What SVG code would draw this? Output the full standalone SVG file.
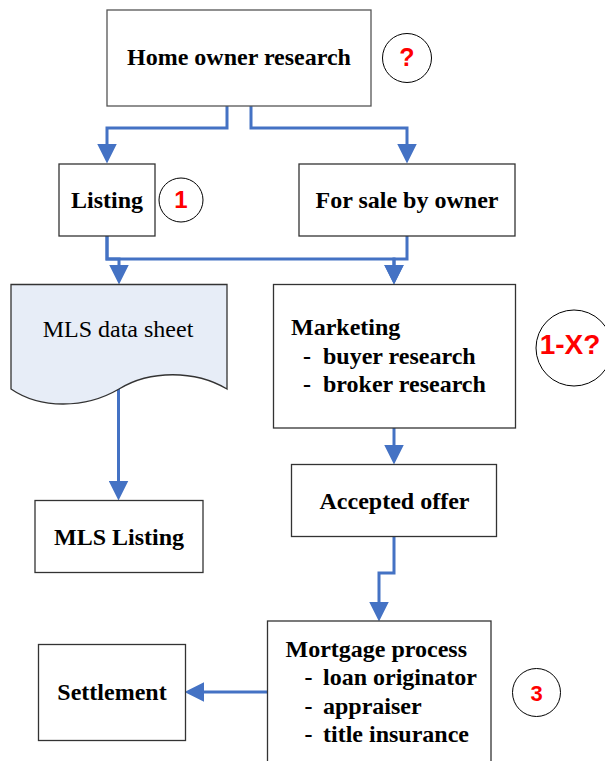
<svg xmlns="http://www.w3.org/2000/svg" width="605" height="761" viewBox="0 0 605 761">
<style>
.box{fill:#fff;stroke:#333;stroke-width:1.3}
.sheet{fill:#E7EDF7;stroke:#333;stroke-width:1.3}
.lbl{font-family:"Liberation Serif","Times New Roman",serif;font-size:24px;font-weight:bold;fill:#000}
.reg{font-family:"Liberation Serif","Times New Roman",serif;font-size:24px;fill:#000}
.mark{fill:#fff;stroke:#000;stroke-width:1}
.num{font-family:"Liberation Sans",Arial,sans-serif;font-weight:bold;fill:#FF0000;text-anchor:middle}
.c{text-anchor:middle}
.conn{fill:none;stroke:#4472C4;stroke-width:3;marker-end:url(#arr)}
</style>
<defs>
<marker id="arr" markerUnits="userSpaceOnUse" markerWidth="20" markerHeight="20" viewBox="0 0 19 19" refX="9" refY="9.5" orient="auto">
<path d="M0,0 L19,9.5 L0,19 z" fill="#4472C4"/>
</marker>
</defs>
<g id="connectors">
<path class="conn" d="M227,106 V128 H107 V153"/>
<path class="conn" d="M251,106 V128 H407 V153"/>
<path class="conn" d="M107,236 V259 H119 V274"/>
<path class="conn" d="M107,236 V259 H394 V274"/>
<path class="conn" d="M407,236 V259 H394 V274"/>
<path class="conn" d="M118.5,388 V490"/>
<path class="conn" d="M394,428 V454"/>
<path class="conn" d="M394,536 V573 H379 V611"/>
<path class="conn" d="M267,692 H195"/>
</g>
<g id="home">
<rect class="box" x="107" y="10" width="264" height="96" style="stroke:#555"/>
<text class="lbl c" x="239" y="65">Home owner research</text>
</g>
<g id="mark-q">
<circle class="mark" cx="407" cy="58" r="24.5"/>
<text class="num" x="407" y="66" font-size="25">?</text>
</g>
<g id="listing">
<rect class="box" x="59" y="164" width="96" height="72"/>
<text class="lbl c" x="107" y="208">Listing</text>
</g>
<g id="mark-1">
<circle class="mark" cx="181" cy="200" r="22"/>
<text class="num" x="181" y="207.5" font-size="24">1</text>
</g>
<g id="fsbo">
<rect class="box" x="299" y="164" width="216" height="72"/>
<text class="lbl c" x="407" y="208">For sale by owner</text>
</g>
<g id="datasheet">
<path class="sheet" d="M11,284.5 H227 V389 C195,370 150,370 119,389 C85,409 40,409 11,389 Z"/>
<text class="reg c" x="118" y="337">MLS data sheet</text>
</g>
<g id="marketing">
<rect class="box" x="273.5" y="284.5" width="242" height="143.5"/>
<text class="lbl" x="291" y="335">Marketing</text>
<text class="lbl" y="363.5"><tspan x="303">-</tspan><tspan x="323">buyer research</tspan></text>
<text class="lbl" y="391.5"><tspan x="303">-</tspan><tspan x="323">broker research</tspan></text>
</g>
<g id="mark-1x">
<circle class="mark" cx="574" cy="348" r="38"/>
<text class="num" x="570" y="354" font-size="28">1-X?</text>
</g>
<g id="mlslisting">
<rect class="box" x="35" y="500.5" width="168" height="72"/>
<text class="lbl c" x="119" y="545">MLS Listing</text>
</g>
<g id="accepted">
<rect class="box" x="291.5" y="464.5" width="205" height="72"/>
<text class="lbl c" x="394.5" y="508.5">Accepted offer</text>
</g>
<g id="mortgage">
<rect class="box" x="267.5" y="621" width="223.5" height="150"/>
<text class="lbl" x="285.5" y="657">Mortgage process</text>
<text class="lbl" y="685"><tspan x="304.5">-</tspan><tspan x="323">loan originator</tspan></text>
<text class="lbl" y="713.5"><tspan x="304.5">-</tspan><tspan x="323">appraiser</tspan></text>
<text class="lbl" y="742"><tspan x="304.5">-</tspan><tspan x="323">title insurance</tspan></text>
</g>
<g id="settlement">
<rect class="box" x="38.5" y="644.5" width="147" height="96"/>
<text class="lbl c" x="112" y="699.5">Settlement</text>
</g>
<g id="mark-3">
<circle class="mark" cx="536.5" cy="692.5" r="24"/>
<text class="num" x="536.5" y="700.5" font-size="22">3</text>
</g>
</svg>
